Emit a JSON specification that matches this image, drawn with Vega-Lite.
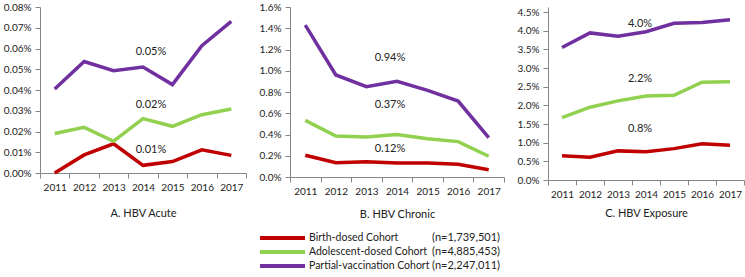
{
  "$schema": "https://vega.github.io/schema/vega-lite/v6.json",
  "padding": {"left": 3, "top": 2, "right": 0, "bottom": 0},
  "config": {
    "font": "Lato",
    "view": {"stroke": null},
    "axis": {"domainColor": "#868686", "tickColor": "#868686", "tickSize": 5, "labelPadding": 4, "labelFontSize": 10, "labelColor": "#222222", "grid": false, "titleFontSize": 11, "titleFontWeight": "normal", "titleColor": "#222222", "labelOverlap": false},
    "text": {"fontSize": 11, "color": "#222222"}
  },
  "datasets": {
    "rates": [
      {"panel": "A", "cohort": "Birth-dosed Cohort", "year": "2011", "rate": 0.0},
      {"panel": "A", "cohort": "Birth-dosed Cohort", "year": "2012", "rate": 0.0087},
      {"panel": "A", "cohort": "Birth-dosed Cohort", "year": "2013", "rate": 0.0141},
      {"panel": "A", "cohort": "Birth-dosed Cohort", "year": "2014", "rate": 0.0037},
      {"panel": "A", "cohort": "Birth-dosed Cohort", "year": "2015", "rate": 0.0055},
      {"panel": "A", "cohort": "Birth-dosed Cohort", "year": "2016", "rate": 0.0112},
      {"panel": "A", "cohort": "Birth-dosed Cohort", "year": "2017", "rate": 0.0085},
      {"panel": "A", "cohort": "Adolescent-dosed Cohort", "year": "2011", "rate": 0.019},
      {"panel": "A", "cohort": "Adolescent-dosed Cohort", "year": "2012", "rate": 0.022},
      {"panel": "A", "cohort": "Adolescent-dosed Cohort", "year": "2013", "rate": 0.0153},
      {"panel": "A", "cohort": "Adolescent-dosed Cohort", "year": "2014", "rate": 0.0262},
      {"panel": "A", "cohort": "Adolescent-dosed Cohort", "year": "2015", "rate": 0.0225},
      {"panel": "A", "cohort": "Adolescent-dosed Cohort", "year": "2016", "rate": 0.0281},
      {"panel": "A", "cohort": "Adolescent-dosed Cohort", "year": "2017", "rate": 0.0308},
      {"panel": "A", "cohort": "Partial-vaccination Cohort", "year": "2011", "rate": 0.0405},
      {"panel": "A", "cohort": "Partial-vaccination Cohort", "year": "2012", "rate": 0.0537},
      {"panel": "A", "cohort": "Partial-vaccination Cohort", "year": "2013", "rate": 0.0493},
      {"panel": "A", "cohort": "Partial-vaccination Cohort", "year": "2014", "rate": 0.0511},
      {"panel": "A", "cohort": "Partial-vaccination Cohort", "year": "2015", "rate": 0.0426},
      {"panel": "A", "cohort": "Partial-vaccination Cohort", "year": "2016", "rate": 0.0614},
      {"panel": "A", "cohort": "Partial-vaccination Cohort", "year": "2017", "rate": 0.0731},
      {"panel": "B", "cohort": "Birth-dosed Cohort", "year": "2011", "rate": 0.204},
      {"panel": "B", "cohort": "Birth-dosed Cohort", "year": "2012", "rate": 0.135},
      {"panel": "B", "cohort": "Birth-dosed Cohort", "year": "2013", "rate": 0.144},
      {"panel": "B", "cohort": "Birth-dosed Cohort", "year": "2014", "rate": 0.132},
      {"panel": "B", "cohort": "Birth-dosed Cohort", "year": "2015", "rate": 0.132},
      {"panel": "B", "cohort": "Birth-dosed Cohort", "year": "2016", "rate": 0.119},
      {"panel": "B", "cohort": "Birth-dosed Cohort", "year": "2017", "rate": 0.069},
      {"panel": "B", "cohort": "Adolescent-dosed Cohort", "year": "2011", "rate": 0.533},
      {"panel": "B", "cohort": "Adolescent-dosed Cohort", "year": "2012", "rate": 0.386},
      {"panel": "B", "cohort": "Adolescent-dosed Cohort", "year": "2013", "rate": 0.376},
      {"panel": "B", "cohort": "Adolescent-dosed Cohort", "year": "2014", "rate": 0.4},
      {"panel": "B", "cohort": "Adolescent-dosed Cohort", "year": "2015", "rate": 0.36},
      {"panel": "B", "cohort": "Adolescent-dosed Cohort", "year": "2016", "rate": 0.333},
      {"panel": "B", "cohort": "Adolescent-dosed Cohort", "year": "2017", "rate": 0.195},
      {"panel": "B", "cohort": "Partial-vaccination Cohort", "year": "2011", "rate": 1.43},
      {"panel": "B", "cohort": "Partial-vaccination Cohort", "year": "2012", "rate": 0.96},
      {"panel": "B", "cohort": "Partial-vaccination Cohort", "year": "2013", "rate": 0.85},
      {"panel": "B", "cohort": "Partial-vaccination Cohort", "year": "2014", "rate": 0.9},
      {"panel": "B", "cohort": "Partial-vaccination Cohort", "year": "2015", "rate": 0.816},
      {"panel": "B", "cohort": "Partial-vaccination Cohort", "year": "2016", "rate": 0.715},
      {"panel": "B", "cohort": "Partial-vaccination Cohort", "year": "2017", "rate": 0.37},
      {"panel": "C", "cohort": "Birth-dosed Cohort", "year": "2011", "rate": 0.65},
      {"panel": "C", "cohort": "Birth-dosed Cohort", "year": "2012", "rate": 0.61},
      {"panel": "C", "cohort": "Birth-dosed Cohort", "year": "2013", "rate": 0.78},
      {"panel": "C", "cohort": "Birth-dosed Cohort", "year": "2014", "rate": 0.76},
      {"panel": "C", "cohort": "Birth-dosed Cohort", "year": "2015", "rate": 0.84},
      {"panel": "C", "cohort": "Birth-dosed Cohort", "year": "2016", "rate": 0.97},
      {"panel": "C", "cohort": "Birth-dosed Cohort", "year": "2017", "rate": 0.93},
      {"panel": "C", "cohort": "Adolescent-dosed Cohort", "year": "2011", "rate": 1.67},
      {"panel": "C", "cohort": "Adolescent-dosed Cohort", "year": "2012", "rate": 1.95},
      {"panel": "C", "cohort": "Adolescent-dosed Cohort", "year": "2013", "rate": 2.12},
      {"panel": "C", "cohort": "Adolescent-dosed Cohort", "year": "2014", "rate": 2.25},
      {"panel": "C", "cohort": "Adolescent-dosed Cohort", "year": "2015", "rate": 2.27},
      {"panel": "C", "cohort": "Adolescent-dosed Cohort", "year": "2016", "rate": 2.62},
      {"panel": "C", "cohort": "Adolescent-dosed Cohort", "year": "2017", "rate": 2.63},
      {"panel": "C", "cohort": "Partial-vaccination Cohort", "year": "2011", "rate": 3.55},
      {"panel": "C", "cohort": "Partial-vaccination Cohort", "year": "2012", "rate": 3.94},
      {"panel": "C", "cohort": "Partial-vaccination Cohort", "year": "2013", "rate": 3.85},
      {"panel": "C", "cohort": "Partial-vaccination Cohort", "year": "2014", "rate": 3.97},
      {"panel": "C", "cohort": "Partial-vaccination Cohort", "year": "2015", "rate": 4.2},
      {"panel": "C", "cohort": "Partial-vaccination Cohort", "year": "2016", "rate": 4.22},
      {"panel": "C", "cohort": "Partial-vaccination Cohort", "year": "2017", "rate": 4.29}
    ],
    "notes": [
      {"panel": "A", "label": "0.05%", "year": "2014", "pos": 0.0583},
      {"panel": "A", "label": "0.02%", "year": "2014", "pos": 0.0328},
      {"panel": "A", "label": "0.01%", "year": "2014", "pos": 0.0111},
      {"panel": "B", "label": "0.94%", "year": "2014", "pos": 1.117},
      {"panel": "B", "label": "0.37%", "year": "2014", "pos": 0.678},
      {"panel": "B", "label": "0.12%", "year": "2014", "pos": 0.267},
      {"panel": "C", "label": "4.0%", "year": "2014", "pos": 4.18},
      {"panel": "C", "label": "2.2%", "year": "2014", "pos": 2.71},
      {"panel": "C", "label": "0.8%", "year": "2014", "pos": 1.37}
    ],
    "cohorts": [
      {"cohort": "Birth-dosed Cohort", "n": "(n=1,739,501)"},
      {"cohort": "Adolescent-dosed Cohort", "n": "(n=4,885,453)"},
      {"cohort": "Partial-vaccination Cohort", "n": "(n=2,247,011)"}
    ]
  },
  "vconcat": [
    {
      "hconcat": [
        {
          "width": 206, "height": 166,
          "layer": [
            {
              "data": {"name": "rates"},
              "transform": [{"filter": "datum.panel === 'A'"}],
              "mark": {"type": "line", "strokeWidth": 3.5},
              "encoding": {
                "x": {"field": "year", "type": "ordinal", "scale": {"type": "band", "paddingInner": 0, "paddingOuter": 0}, "axis": {"title": "A.  HBV Acute", "labelAngle": 0, "tickBand": "extent", "titlePadding": 15}},
                "y": {"field": "rate", "type": "quantitative", "scale": {"domain": [0, 0.08], "nice": false}, "axis": {"title": null, "tickCount": 50, "values": [0, 0.01, 0.02, 0.03, 0.04, 0.05, 0.06, 0.07, 0.08], "labelExpr": "format(datum.value, '.2f') + '%'"}},
                "color": {"field": "cohort", "type": "nominal", "scale": {"domain": ["Birth-dosed Cohort", "Adolescent-dosed Cohort", "Partial-vaccination Cohort"], "range": ["#C00000", "#92D050", "#7030A0"]}, "legend": null}
              }
            },
            {
              "data": {"name": "notes"},
              "transform": [{"filter": "datum.panel === 'A'"}],
              "mark": {"type": "text", "dx": 8},
              "encoding": {
                "x": {"field": "year", "type": "ordinal"},
                "y": {"field": "pos", "type": "quantitative"},
                "text": {"field": "label"}
              }
            }
          ]
        },
        {
          "width": 214, "height": 170,
          "layer": [
            {
              "data": {"name": "rates"},
              "transform": [{"filter": "datum.panel === 'B'"}],
              "mark": {"type": "line", "strokeWidth": 3.5},
              "encoding": {
                "x": {"field": "year", "type": "ordinal", "scale": {"type": "band", "paddingInner": 0, "paddingOuter": 0}, "axis": {"title": "B.  HBV Chronic", "labelAngle": 0, "tickBand": "extent", "titlePadding": 12}},
                "y": {"field": "rate", "type": "quantitative", "scale": {"domain": [0, 1.6], "nice": false}, "axis": {"title": null, "tickCount": 50, "values": [0, 0.2, 0.4, 0.6, 0.8, 1.0, 1.2, 1.4, 1.6], "labelExpr": "format(datum.value, '.1f') + '%'"}},
                "color": {"field": "cohort", "type": "nominal", "legend": null}
              }
            },
            {
              "data": {"name": "notes"},
              "transform": [{"filter": "datum.panel === 'B'"}],
              "mark": {"type": "text", "dx": -7},
              "encoding": {
                "x": {"field": "year", "type": "ordinal"},
                "y": {"field": "pos", "type": "quantitative"},
                "text": {"field": "label"}
              }
            }
          ]
        },
        {
          "width": 196, "height": 173,
          "layer": [
            {
              "data": {"name": "rates"},
              "transform": [{"filter": "datum.panel === 'C'"}],
              "mark": {"type": "line", "strokeWidth": 3.5},
              "encoding": {
                "x": {"field": "year", "type": "ordinal", "scale": {"type": "band", "paddingInner": 0, "paddingOuter": 0}, "axis": {"title": "C. HBV Exposure", "labelAngle": 0, "tickBand": "extent", "titlePadding": 8}},
                "y": {"field": "rate", "type": "quantitative", "scale": {"domain": [0, 4.634], "nice": false}, "axis": {"title": null, "tickCount": 50, "values": [0, 0.5, 1.0, 1.5, 2.0, 2.5, 3.0, 3.5, 4.0, 4.5], "labelExpr": "format(datum.value, '.1f') + '%'"}},
                "color": {"field": "cohort", "type": "nominal", "legend": null}
              }
            },
            {
              "data": {"name": "notes"},
              "transform": [{"filter": "datum.panel === 'C'"}],
              "mark": {"type": "text", "dx": -6},
              "encoding": {
                "x": {"field": "year", "type": "ordinal"},
                "y": {"field": "pos", "type": "quantitative"},
                "text": {"field": "label"}
              }
            }
          ]
        }
      ],
      "spacing": 44,
      "bounds": "flush"
    },
    {
      "width": 500, "height": 42,
      "data": {"name": "cohorts"},
      "encoding": {
        "y": {"field": "cohort", "type": "nominal", "sort": ["Birth-dosed Cohort", "Adolescent-dosed Cohort", "Partial-vaccination Cohort"], "axis": null}
      },
      "layer": [
        {
          "mark": {"type": "point", "shape": "stroke", "size": 2025, "strokeWidth": 4, "filled": false, "opacity": 1, "xOffset": -7.5},
          "encoding": {"color": {"field": "cohort", "type": "nominal", "legend": null}}
        },
        {
          "mark": {"type": "text", "align": "left", "dx": 19, "fontSize": 10.5},
          "encoding": {"text": {"field": "cohort"}}
        },
        {
          "mark": {"type": "text", "align": "right", "dx": 210},
          "encoding": {"text": {"field": "n"}}
        }
      ]
    }
  ],
  "spacing": 11
}
